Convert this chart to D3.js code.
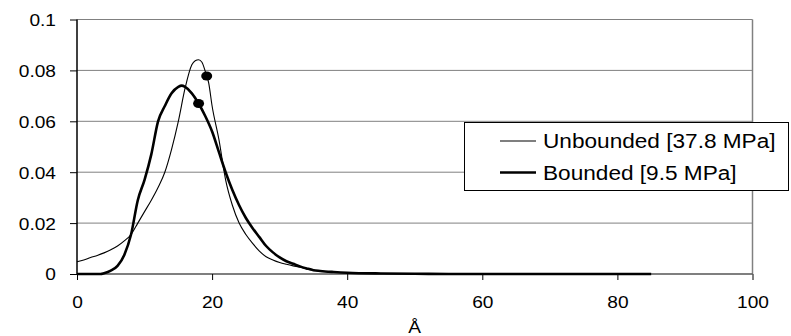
<!DOCTYPE html>
<html>
<head>
<meta charset="utf-8">
<script src="https://cdn.jsdelivr.net/npm/d3@7/dist/d3.min.js"></script>
<style>
  html, body { margin: 0; padding: 0; background: #fff; }
  svg { display: block; font-family: "Liberation Sans", Arial, sans-serif; }
</style>
</head>
<body>
<svg id="chart" width="791" height="336"></svg>
<script>
// Pore-size distributions (Å) for the two cases
const unboundedX = [0,1,2,3,4,5,6,7,8,9,10,11,12,13,14,15,16,17,17.5,18,18.5,19,19.5,20,21,22,23,24,25,26,27,28,29,30,31,32,33,34,35,36,38,40,45,50,55,60];
const unboundedY = [0.0048,0.0055,0.0065,0.0073,0.0083,0.0095,0.011,0.013,0.0155,0.020,0.0245,0.029,0.034,0.040,0.049,0.060,0.073,0.0822,0.0838,0.0842,0.0832,0.0795,0.075,0.066,0.053,0.037,0.027,0.020,0.0155,0.012,0.009,0.0068,0.0055,0.0045,0.0038,0.0032,0.0027,0.0020,0.0015,0.0012,0.0008,0.0005,0.0002,0.0001,0,0];

const boundedX = [0,1,2,3,3.5,4,5,6,7,8,9,10,11,12,13,14,15,15.5,16,17,18,19,20,21,22,23,24,25,26,27,28,29,30,31,32,33,34,35,36,38,40,45,50,55,60,70,85];
const boundedY = [0,0,0,0,0,0.0003,0.0013,0.0032,0.0075,0.0155,0.029,0.037,0.047,0.060,0.066,0.071,0.0735,0.074,0.0735,0.071,0.067,0.062,0.056,0.048,0.040,0.033,0.027,0.022,0.018,0.0145,0.011,0.0085,0.0065,0.005,0.004,0.003,0.0022,0.0015,0.0012,0.0008,0.0005,0.0002,0.0001,0,0,0,0];

// Marked points on each curve
const markerX = [19.2, 18.0];
const markerY = [0.0778, 0.067];

const seriesNames = ["Unbounded [37.8 MPa]", "Bounded [9.5 MPa]"];
const xTicks = [0, 20, 40, 60, 80, 100];
const yTicks = [0, 0.02, 0.04, 0.06, 0.08, 0.1];
const xTitle = "Å";

const svg = d3.select("#chart");
const x = d3.scaleLinear().domain([0, 100]).range([77, 752.5]);
const y = d3.scaleLinear().domain([0, 0.1]).range([274, 19.5]);

const fontSize = 16.5;
const stretch = 1.16;

// horizontal gridlines
svg.append("g").selectAll("line").data(yTicks.filter(d => d > 0)).join("line")
  .attr("x1", x(0)).attr("x2", x(100))
  .attr("y1", d => y(d)).attr("y2", d => y(d))
  .attr("stroke", "#808080").attr("stroke-width", 1);

// right border
svg.append("line")
  .attr("x1", x(100)).attr("x2", x(100)).attr("y1", y(0.1)).attr("y2", y(0))
  .attr("stroke", "#808080").attr("stroke-width", 1.5);

// bottom axis
const xAxis = d3.axisBottom(x).tickValues(xTicks).tickSize(6).tickFormat(d3.format("d"));
const gx = svg.append("g").attr("transform", `translate(0,${y(0)})`).call(xAxis);
gx.select(".domain").attr("stroke", "#555").attr("stroke-width", 1.5).attr("d", `M${x(0)},0H${x(100)}`);
gx.selectAll(".tick line").attr("stroke", "#000");
gx.selectAll(".tick text")
  .attr("font-size", fontSize).attr("fill", "#000")
  .attr("y", 0).attr("dy", 0).attr("x", 0)
  .attr("transform", `translate(0,33.5) scale(${stretch},1)`);

// left axis
const yAxis = d3.axisLeft(y).tickValues(yTicks).tickSize(7).tickFormat(d => d === 0 ? "0" : d3.format(".2~f")(d));
const gy = svg.append("g").attr("transform", `translate(${x(0)},0)`).call(yAxis);
gy.select(".domain").attr("stroke", "#000").attr("stroke-width", 1.5).attr("d", `M0,${y(0.1)}V${y(0)}`);
gy.selectAll(".tick line").attr("stroke", "#000");
gy.selectAll(".tick text")
  .attr("font-size", fontSize).attr("fill", "#000")
  .attr("x", 0).attr("dy", "0.36em")
  .attr("transform", `translate(-21,0) scale(${stretch},1)`);

// axis title
svg.append("text")
  .attr("text-anchor", "middle").attr("font-size", fontSize).attr("fill", "#000")
  .attr("transform", `translate(${(x(0) + x(100)) / 2},333) scale(${stretch},1)`)
  .text(xTitle);

const line = d3.line().x(d => x(d[0])).y(d => y(d[1])).curve(d3.curveMonotoneX);

svg.append("path")
  .datum(boundedX.map((v, i) => [v, boundedY[i]]))
  .attr("d", line).attr("fill", "none").attr("stroke", "#000").attr("stroke-width", 2.6)
  .attr("stroke-linejoin", "round");

svg.append("path")
  .datum(unboundedX.map((v, i) => [v, unboundedY[i]]))
  .attr("d", line).attr("fill", "none").attr("stroke", "#000").attr("stroke-width", 1.1)
  .attr("stroke-linejoin", "round");

svg.append("g").selectAll("ellipse").data(markerX).join("ellipse")
  .attr("cx", d => x(d)).attr("cy", (d, i) => y(markerY[i]))
  .attr("rx", 5.5).attr("ry", 4.5).attr("fill", "#000");

// legend
const lg = svg.append("g");
lg.append("rect").attr("x", 464.5).attr("y", 122.5).attr("width", 324).attr("height", 68)
  .attr("fill", "#fff").attr("stroke", "#000").attr("stroke-width", 1);
const rowsY = [141, 172.5];
const widths = [1.1, 2.6];
seriesNames.forEach((name, i) => {
  lg.append("line").attr("x1", 500).attr("x2", 536).attr("y1", rowsY[i]).attr("y2", rowsY[i])
    .attr("stroke", "#000").attr("stroke-width", widths[i]);
  lg.append("text").attr("font-size", 19.5).attr("fill", "#000")
    .attr("dy", "0.36em")
    .attr("transform", `translate(543,${rowsY[i]}) scale(${stretch},1)`)
    .text(name);
});
</script>
</body>
</html>
